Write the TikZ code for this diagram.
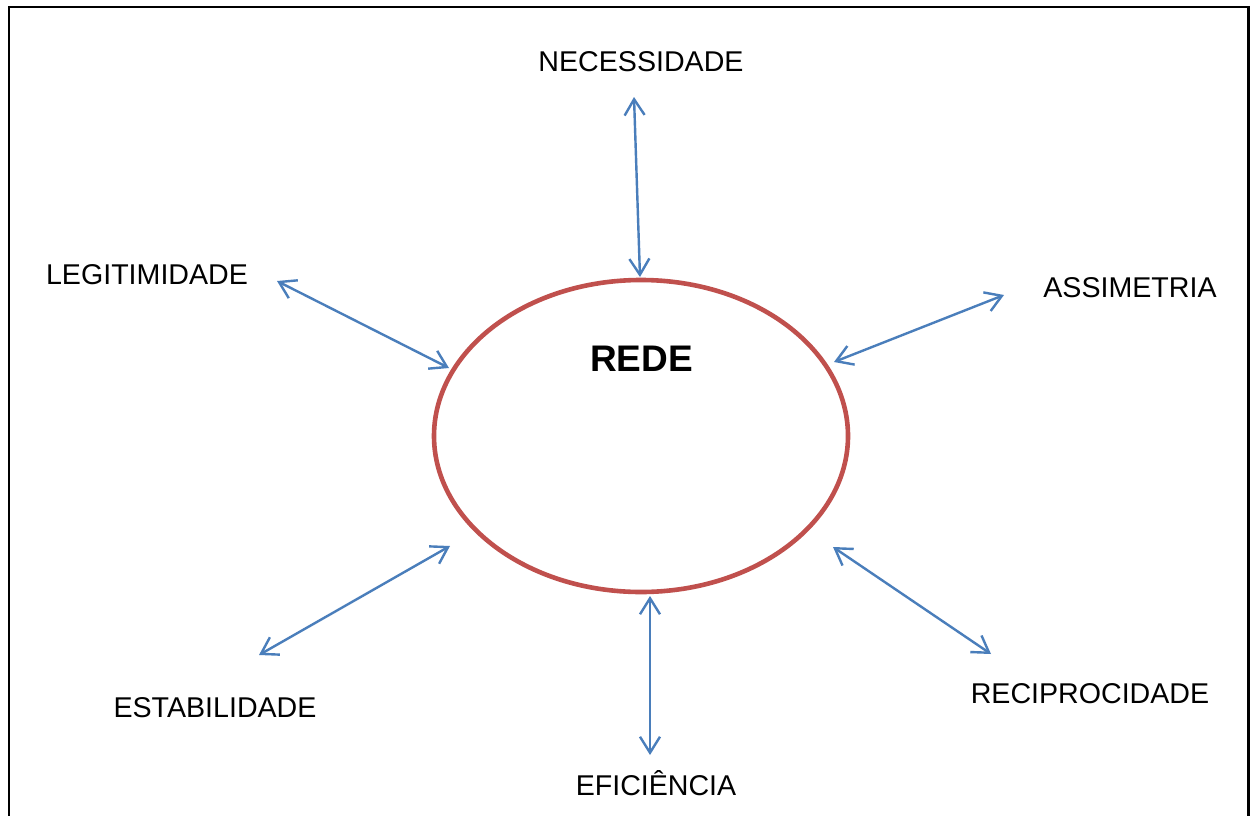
\documentclass[tikz,border=0pt]{standalone}
\usepackage{fontspec}
\setmainfont{Liberation Sans}
\usetikzlibrary{arrows.meta}
\definecolor{arrowblue}{HTML}{4A7EBB}
\definecolor{ringred}{HTML}{C0504D}
\begin{document}
\begin{tikzpicture}[x=1pt,y=-1pt,
  lbl/.style={anchor=base,inner sep=0pt,font=\fontsize{28.6}{34}\selectfont},
  link/.style={arrowblue,line width=2.4pt,{Straight Barb[length=16pt,width=20pt]}-{Straight Barb[length=16pt,width=20pt]}},
  ring/.style={ringred,line width=4.6pt}]
\useasboundingbox (0,0) rectangle (1250,816);
\clip (0,0) rectangle (1250,816);
\fill[white] (0,0) rectangle (1250,816);
\draw[line width=2.4pt] (9,7) rectangle (1248.5,840);
% central ellipse
\draw[ring] (641,436) ellipse [x radius=207, y radius=156];
\node[anchor=base,inner sep=0pt,font=\fontsize{37}{42}\selectfont\bfseries] (rede) at (641.5,371) {REDE};
% labels
\node[lbl] (nec) at (641,72) {NECESSIDADE};
\node[lbl] (leg) at (147,284) {LEGITIMIDADE};
\node[lbl] (ass) at (1130,297) {ASSIMETRIA};
\node[lbl] (est) at (215,717) {ESTABILIDADE};
\node[lbl] (rec) at (1090,703) {RECIPROCIDADE};
\node[lbl] (efi) at (656,795) {EFICIÊNCIA};
% arrow end points
\coordinate (n1) at (634,97);  \coordinate (n2) at (640,277);
\coordinate (l1) at (277,281); \coordinate (l2) at (449,368);
\coordinate (a1) at (1004,295);\coordinate (a2) at (834,362);
\coordinate (s1) at (450,546); \coordinate (s2) at (259,655);
\coordinate (r1) at (833,547); \coordinate (r2) at (991,654);
\coordinate (e1) at (650,596); \coordinate (e2) at (650,755);
\draw[link] (n1) -- (n2);
\draw[link] (l1) -- (l2);
\draw[link] (a1) -- (a2);
\draw[link] (s1) -- (s2);
\draw[link] (r1) -- (r2);
\draw[link] (e1) -- (e2);
\end{tikzpicture}
\end{document}
